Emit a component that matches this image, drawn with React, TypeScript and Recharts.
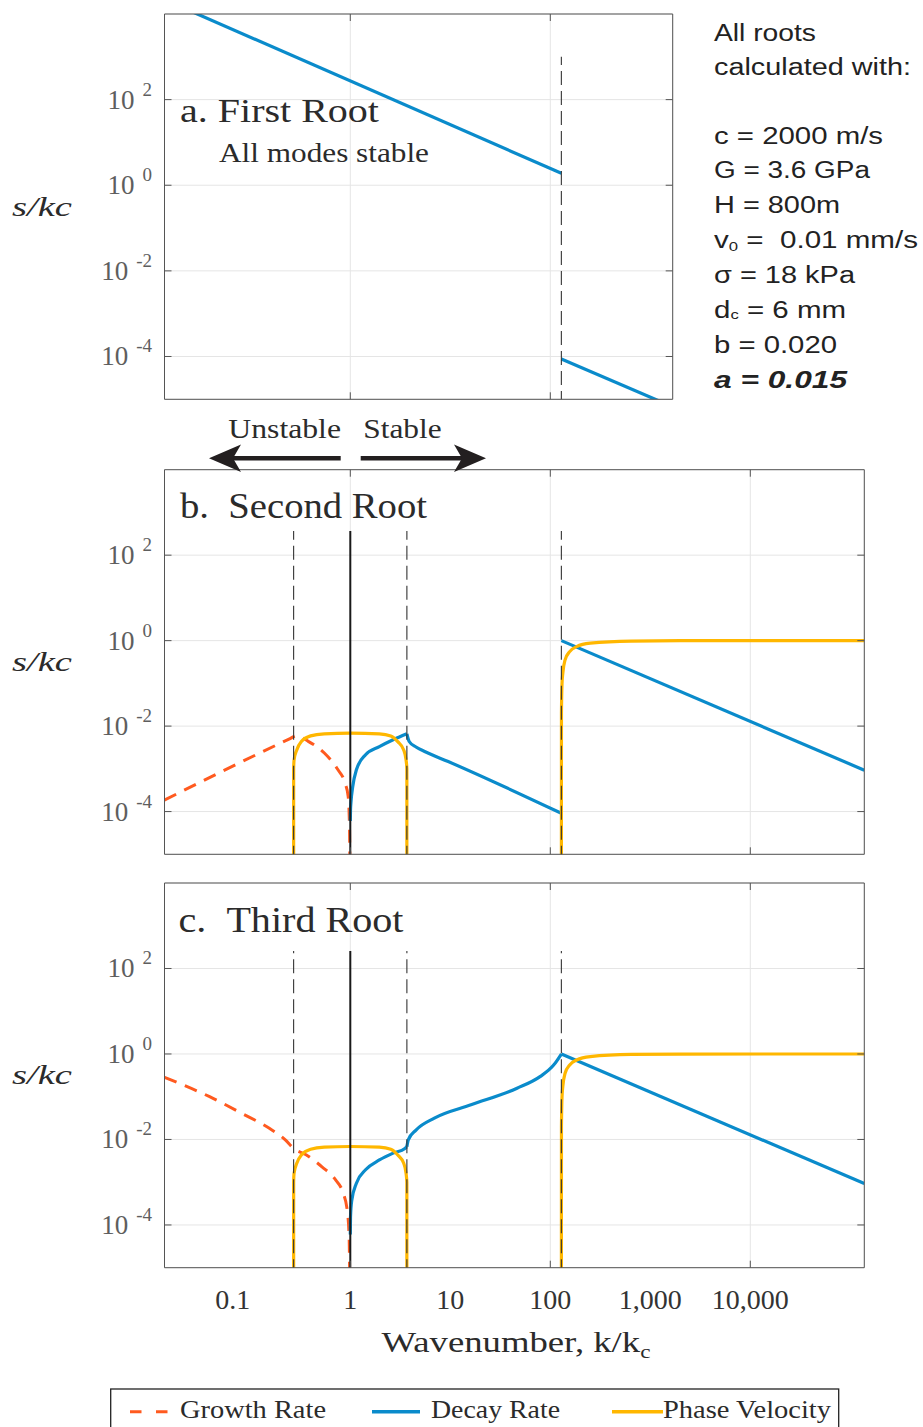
import React from 'react';
import { LineChart, Line, XAxis, YAxis, CartesianGrid } from 'recharts';

type Pt = [number, number];

// ---------- axis extents and ticks ----------
const K_MIN = 0.01387;
const K_MAX = 138000;
const K_MAX_A = 1675;
const S_MIN = 1e-5;
const S_MAX = 1e4;

const GRID_K_A = [1, 100];
const GRID_K = [1, 100, 10000];
const LABEL_K = [0.1, 1, 10, 100, 1000, 10000];
const LABEL_K_TEXT = ['0.1', '1', '10', '100', '1,000', '10,000'];
const TICK_S = [1e-4, 1e-2, 1, 100];

// ---------- critical wavenumbers (vertical markers) ----------
const K_LOW = 0.2712;
const K_HIGH = 3.68;
const K_SHEAR = 129;
const K_UNIT = 1;
const MARK_BOTTOM = 1e-7;
const MARK_TOP_A = 1000;
const MARK_TOP_B = 368;
const MARK_TOP_C = 257;

// ---------- panel a: first root ----------
const A_DECAY_UPPER: Pt[] = [[0.01, 30200], [129, 1.9]];
const A_DECAY_LOWER: Pt[] = [[129, 8.7e-5], [1675, 6.7e-6]];

// ---------- panel b: second root ----------
const B_GROWTH: Pt[] = [
  [0.01387, 1.86e-4], [0.25, 5.1e-3], [0.29, 6.0e-3], [0.38, 4.4e-3], [0.55, 2.34e-3],
  [0.753, 9.5e-4], [0.885, 4.7e-4], [0.953, 2.24e-4], [0.982, 4.5e-5], [1.0, 1e-7],
];
const B_DECAY_RISE: Pt[] = [
  [1.0, 6e-5], [1.005, 1.1e-4], [1.014, 1.58e-4], [1.059, 3.9e-4], [1.151, 9.5e-4],
  [1.422, 2.14e-3], [1.954, 3.31e-3], [2.68, 4.79e-3], [3.68, 6.6e-3],
];
const B_DECAY_FALL: Pt[] = [
  [3.68, 6.6e-3], [3.88, 4.37e-3], [4.54, 3.24e-3], [5.61, 2.51e-3], [9.53, 1.48e-3], [129, 9.1e-5],
];

// ---------- shared by panels b and c ----------
const DECAY_HIGH_K: Pt[] = [[129, 1.0], [138000, 9.3e-4]];
const PHASE_LOW_K: Pt[] = [
  [0.2712, 1e-7], [0.2714, 1.0e-3], [0.274, 1.62e-3], [0.2917, 2.77e-3], [0.324, 4.34e-3],
  [0.401, 5.9e-3], [0.55, 6.6e-3], [1.0, 6.85e-3], [1.95, 6.6e-3], [2.54, 5.9e-3],
  [2.98, 4.34e-3], [3.42, 2.77e-3], [3.61, 1.62e-3], [3.678, 1.0e-3], [3.68, 1e-7],
];
const PHASE_HIGH_K: Pt[] = [
  [129, 1e-7], [129.3, 0.02], [131, 0.1], [133.4, 0.174], [140.6, 0.355], [156.3, 0.553],
  [183.2, 0.724], [251, 0.871], [646, 0.977], [2000, 0.996], [138000, 1.0],
];

// ---------- panel c: third root ----------
const C_GROWTH: Pt[] = [
  [0.01387, 0.285], [0.0392, 0.1], [0.082, 0.041], [0.155, 0.0182], [0.224, 9.8e-3],
  [0.271, 6.2e-3], [0.361, 4.37e-3], [0.521, 2.29e-3], [0.716, 1.12e-3], [0.839, 6.0e-4],
  [0.931, 2.24e-4], [0.973, 5.4e-5], [1.0, 1e-7],
];
const C_DECAY_RISE: Pt[] = [
  [1.0, 6e-5], [1.005, 1.55e-4], [1.035, 3.8e-4], [1.151, 9.5e-4], [1.422, 1.95e-3],
  [1.954, 3.31e-3], [2.68, 4.79e-3], [3.52, 6.17e-3], [3.68, 6.76e-3],
];
const C_DECAY_CLIMB: Pt[] = [
  [3.68, 6.76e-3], [3.8, 9.8e-3], [4.54, 0.0166], [6.93, 0.0316], [16.1, 0.0646],
  [46.5, 0.158], [78.9, 0.295], [108, 0.55], [129, 1.0],
];

// ---------- text ----------
const PARAM_LINES = [
  'c = 2000 m/s', 'G = 3.6 GPa', 'H = 800m', 'v0 =  0.01 mm/s', 'σ = 18 kPa', 'dc = 6 mm', 'b = 0.020', 'a = 0.015',
];
const LEGEND_NAMES = ['Growth Rate', 'Decay Rate', 'Phase Velocity'];

// ---------- style ----------
const SERIF = "'Liberation Serif', 'DejaVu Serif', serif";
const SANS = "'Liberation Sans', 'DejaVu Sans', Arial, sans-serif";
const GROWTH_COLOR = '#ff5a1f';
const DECAY_COLOR = '#0a8bcb';
const PHASE_COLOR = '#ffb700';
const AXIS = '#555555';
const GRID = '#e5e5e5';
const TEXT = '#2b2b2b';
const TICK_LEN = 7;
const PLOT_LEFT = 164.5;
const Y_AXIS_W = 60;
const R_AXIS_W = 10;
const X_AXIS_H = 10;
const W = 923;

const toData = (pts: Pt[]) => pts.map(([k, v]) => ({ k, v }));

type Series = { pts: Pt[]; color: string; width: number; dash?: string; marker?: boolean; curve?: 'linear' | 'monotoneX' };

const BottomTick = (p: any) => {
  const { x, y, payload, labelled } = p;
  const v = payload.value as number;
  const e = Math.round(Math.log10(v));
  const idx = LABEL_K.findIndex((t) => Math.abs(t - v) / t < 1e-6);
  return (
    <g>
      {e % 2 === 0 && <line x1={x} x2={x} y1={y} y2={y - TICK_LEN} stroke={AXIS} strokeWidth={1} />}
      {labelled && idx >= 0 && (
        <text x={x} y={y + 41.6} textAnchor={v < 1 ? 'end' : 'middle'} fontFamily={SERIF} fontSize={28} fill="#333">
          {LABEL_K_TEXT[idx]}
        </text>
      )}
    </g>
  );
};

const TopTick = (p: any) => {
  const { x, y, payload } = p;
  const e = Math.round(Math.log10(payload.value));
  return <g>{e % 2 === 0 && <line x1={x} x2={x} y1={y} y2={y + TICK_LEN} stroke={AXIS} strokeWidth={1} />}</g>;
};

const LeftTick = (p: any) => {
  const { x, y, payload } = p;
  const e = Math.round(Math.log10(payload.value));
  return (
    <g>
      <line x1={x} x2={x + TICK_LEN} y1={y} y2={y} stroke={AXIS} strokeWidth={1} />
      <text x={x - 12.5} y={y + 9} textAnchor="end" fontFamily={SERIF} fontSize={27} fill="#5e5e5e">
        10
        <tspan dx={8} dy={-13} fontSize={19}>{String(e)}</tspan>
      </text>
    </g>
  );
};

const RightTick = (p: any) => {
  const { x, y } = p;
  return <line x1={x} x2={x - TICK_LEN} y1={y} y2={y} stroke={AXIS} strokeWidth={1} />;
};

function Panel(props: {
  top: number; height: number; plotTop: number; plotBottom: number; plotRight: number;
  kMax: number; gridK: number[]; labelled: boolean; series: Series[];
}) {
  const { top, height, plotTop, plotBottom, plotRight, kMax, gridK, labelled, series } = props;
  const margin = {
    top: plotTop - top - X_AXIS_H,
    bottom: top + height - plotBottom - X_AXIS_H,
    left: PLOT_LEFT - Y_AXIS_W,
    right: W - plotRight - R_AXIS_W,
  };
  const axisLine = { stroke: AXIS, strokeWidth: 1 };
  return (
    <div style={{ position: 'absolute', left: 0, top }}>
      <LineChart width={W} height={height} margin={margin}>
        <CartesianGrid xAxisId="top" yAxisId="right" stroke={GRID} strokeWidth={1} />
        <XAxis
          xAxisId="bottom" orientation="bottom" type="number" dataKey="k" scale="log"
          domain={[K_MIN, kMax]} allowDataOverflow ticks={labelled ? LABEL_K : gridK} interval={0}
          height={X_AXIS_H} tickSize={0} tickMargin={0} tickLine={false} axisLine={axisLine}
          tick={(p: any) => <BottomTick {...p} labelled={labelled} />}
        />
        <XAxis
          xAxisId="top" orientation="top" type="number" dataKey="k" scale="log"
          domain={[K_MIN, kMax]} allowDataOverflow ticks={gridK} interval={0}
          height={X_AXIS_H} tickSize={0} tickMargin={0} tickLine={false} axisLine={axisLine}
          tick={(p: any) => <TopTick {...p} />}
        />
        <YAxis
          yAxisId="left" orientation="left" type="number" scale="log" domain={[S_MIN, S_MAX]}
          allowDataOverflow ticks={TICK_S} interval={0} width={Y_AXIS_W} tickSize={0} tickMargin={0}
          tickLine={false} axisLine={axisLine} tick={(p: any) => <LeftTick {...p} />}
        />
        <YAxis
          yAxisId="right" orientation="right" type="number" scale="log" domain={[S_MIN, S_MAX]}
          allowDataOverflow ticks={TICK_S} interval={0} width={R_AXIS_W} tickSize={0} tickMargin={0}
          tickLine={false} axisLine={axisLine} tick={(p: any) => <RightTick {...p} />}
        />
        {series.map((s, i) => (
          <Line
            key={i}
            xAxisId={s.marker ? 'top' : 'bottom'}
            yAxisId={s.marker ? 'right' : 'left'}
            data={toData(s.pts)}
            dataKey="v"
            type={s.curve || 'linear'}
            stroke={s.color}
            strokeWidth={s.width}
            strokeDasharray={s.dash}
            dot={false}
            activeDot={false}
            legendType="none"
            isAnimationActive={false}
          />
        ))}
      </LineChart>
    </div>
  );
}

const dashed = (k: number, topV: number): Series => ({
  pts: [[k, MARK_BOTTOM], [k, topV]], color: '#333', width: 1.1, dash: '14 6', marker: true,
});
const solid = (k: number, topV: number): Series => ({
  pts: [[k, MARK_BOTTOM], [k, topV]], color: '#1a1a1a', width: 2, marker: true,
});

const growth = (pts: Pt[]): Series => ({ pts, color: GROWTH_COLOR, width: 3, dash: '13 9', curve: 'monotoneX' });
const decay = (pts: Pt[], curve: 'linear' | 'monotoneX' = 'monotoneX'): Series => ({ pts, color: DECAY_COLOR, width: 3.2, curve });
const phase = (pts: Pt[]): Series => ({ pts, color: PHASE_COLOR, width: 3.2, curve: 'monotoneX' });

const SERIES_A: Series[] = [decay(A_DECAY_UPPER, 'linear'), decay(A_DECAY_LOWER, 'linear'), dashed(K_SHEAR, MARK_TOP_A)];
const SERIES_B: Series[] = [
  growth(B_GROWTH), decay(B_DECAY_RISE), decay(B_DECAY_FALL), decay(DECAY_HIGH_K, 'linear'),
  phase(PHASE_LOW_K), phase(PHASE_HIGH_K),
  dashed(K_LOW, MARK_TOP_B), dashed(K_HIGH, MARK_TOP_B), dashed(K_SHEAR, MARK_TOP_B), solid(K_UNIT, MARK_TOP_B),
];
const SERIES_C: Series[] = [
  growth(C_GROWTH), decay(C_DECAY_RISE), decay(C_DECAY_CLIMB), decay(DECAY_HIGH_K, 'linear'),
  phase(PHASE_LOW_K), phase(PHASE_HIGH_K),
  dashed(K_LOW, MARK_TOP_C), dashed(K_HIGH, MARK_TOP_C), dashed(K_SHEAR, MARK_TOP_C), solid(K_UNIT, MARK_TOP_C),
];

const PARAM_WIDTHS = [169, 156, 126, 204, 141, 132, 123, 133];

function ParamLine({ text, i }: { text: string; i: number }) {
  const y = 143.5 + i * 34.9;
  const common = { x: 714, y, fontFamily: SANS, fontSize: 23, fill: '#222', textLength: PARAM_WIDTHS[i], lengthAdjust: 'spacingAndGlyphs' as const };
  if (text.startsWith('v0')) {
    return (
      <text {...common} style={{ whiteSpace: 'pre' }}>
        v<tspan fontSize={13} dy={3}>0</tspan><tspan dy={-3}>{text.slice(2)}</tspan>
      </text>
    );
  }
  if (text.startsWith('dc')) {
    return (
      <text {...common}>
        d<tspan fontSize={13} dy={1}>c</tspan><tspan dy={-1}>{text.slice(2)}</tspan>
      </text>
    );
  }
  if (text.startsWith('a =')) {
    return <text {...common} fontWeight="bold" fontStyle="italic">{text}</text>;
  }
  return <text {...common}>{text}</text>;
}

function Overlay() {
  const yLabelCenters = [206.7, 662, 1075.4];
  const legendY = 1411.7;
  return (
    <svg width={W} height={1427} style={{ position: 'absolute', left: 0, top: 0, pointerEvents: 'none' }}>
      {yLabelCenters.map((cy, i) => (
        <text key={i} x={12} y={cy + 9} fontFamily={SERIF} fontSize={28} fontStyle="italic" fill={TEXT} textLength={60} lengthAdjust="spacingAndGlyphs">
          s/kc
        </text>
      ))}

      <text x={180} y={122} fontFamily={SERIF} fontSize={33} fill={TEXT} textLength={199} lengthAdjust="spacingAndGlyphs">a. First Root</text>
      <text x={219} y={161.5} fontFamily={SERIF} fontSize={27} fill={TEXT} textLength={210} lengthAdjust="spacingAndGlyphs">All modes stable</text>
      <text x={180} y={518.3} fontFamily={SERIF} fontSize={35} fill={TEXT} textLength={247} lengthAdjust="spacingAndGlyphs">{'b.\u00a0\u00a0Second Root'}</text>
      <text x={178.5} y={932.3} fontFamily={SERIF} fontSize={35} fill={TEXT} textLength={225} lengthAdjust="spacingAndGlyphs">{'c.\u00a0\u00a0Third Root'}</text>

      {/* stability arrows */}
      <text x={228.3} y={438.3} fontFamily={SERIF} fontSize={27} fill={TEXT} textLength={112.7} lengthAdjust="spacingAndGlyphs">Unstable</text>
      <text x={363.3} y={438.3} fontFamily={SERIF} fontSize={27} fill={TEXT} textLength={78.4} lengthAdjust="spacingAndGlyphs">Stable</text>
      <line x1={340.7} x2={225} y1={458.3} y2={458.3} stroke="#231f20" strokeWidth={4.5} />
      <polygon points="209,458.3 241,444.5 233,458.3 241,472" fill="#231f20" />
      <line x1={360.7} x2={470} y1={458.3} y2={458.3} stroke="#231f20" strokeWidth={4.5} />
      <polygon points="486,458.3 454,444.5 462,458.3 454,472" fill="#231f20" />

      {/* parameter block */}
      <text x={714} y={40.7} fontFamily={SANS} fontSize={23} fill="#222" textLength={102} lengthAdjust="spacingAndGlyphs">All roots</text>
      <text x={714} y={74.5} fontFamily={SANS} fontSize={23} fill="#222" textLength={197} lengthAdjust="spacingAndGlyphs">calculated with:</text>
      {PARAM_LINES.map((t, i) => <ParamLine key={i} text={t} i={i} />)}

      {/* x axis title */}
      <text x={381.5} y={1351.7} fontFamily={SERIF} fontSize={30} fill={TEXT} textLength={269} lengthAdjust="spacingAndGlyphs">
        Wavenumber, k/k<tspan fontSize={19} dy={6}>c</tspan>
      </text>

      {/* legend */}
      <rect x={110.7} y={1389} width={728} height={60} fill="#fff" stroke="#222" strokeWidth={1.3} />
      <line x1={130} x2={168} y1={legendY} y2={legendY} stroke={GROWTH_COLOR} strokeWidth={3} strokeDasharray="11.5 14.5" />
      <text x={180} y={1418.3} fontFamily={SERIF} fontSize={25} fill={TEXT} textLength={146} lengthAdjust="spacingAndGlyphs">{LEGEND_NAMES[0]}</text>
      <line x1={372} x2={420} y1={legendY} y2={legendY} stroke={DECAY_COLOR} strokeWidth={3.4} />
      <text x={431} y={1418.3} fontFamily={SERIF} fontSize={25} fill={TEXT} textLength={129} lengthAdjust="spacingAndGlyphs">{LEGEND_NAMES[1]}</text>
      <line x1={612} x2={663} y1={legendY} y2={legendY} stroke={PHASE_COLOR} strokeWidth={3.4} />
      <text x={663} y={1418.3} fontFamily={SERIF} fontSize={25} fill={TEXT} textLength={168} lengthAdjust="spacingAndGlyphs">{LEGEND_NAMES[2]}</text>
    </svg>
  );
}

export default function App() {
  return (
    <div style={{ position: 'absolute', left: 0, top: 0, width: W, height: 1427, background: '#fff', overflow: 'hidden' }}>
      <Panel top={0} height={430} plotTop={14} plotBottom={399.3} plotRight={672.7} kMax={K_MAX_A} gridK={GRID_K_A} labelled={false} series={SERIES_A} />
      <Panel top={440} height={440} plotTop={469.7} plotBottom={854.3} plotRight={864.3} kMax={K_MAX} gridK={GRID_K} labelled={false} series={SERIES_B} />
      <Panel top={860} height={490} plotTop={883} plotBottom={1267.7} plotRight={864.3} kMax={K_MAX} gridK={GRID_K} labelled={true} series={SERIES_C} />
      <Overlay />
    </div>
  );
}
